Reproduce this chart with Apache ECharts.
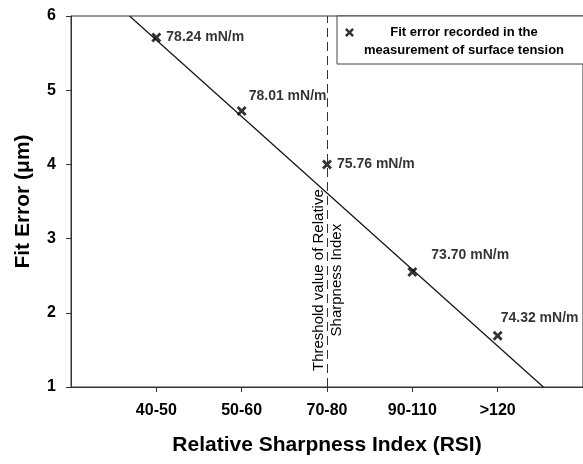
<!DOCTYPE html>
<html>
<head>
<meta charset="utf-8">
<script src="https://cdn.jsdelivr.net/npm/echarts@6/dist/echarts.min.js"></script>
<style>
  html, body { margin: 0; padding: 0; background: #fff; }
  #chart { width: 583px; height: 464px; }
</style>
</head>
<body>
<div id="chart"></div>
<script>
const categories = ['40-50', '50-60', '70-80', '90-110', '>120'];
const fitError = [5.71, 4.72, 4.0, 2.55, 1.69];
const tension = ['78.24 mN/m', '78.01 mN/m', '75.76 mN/m', '73.70 mN/m', '74.32 mN/m'];
const fitLine = [[0.686, 6], [5.535, 1]];
const thresholdX = 3;

// where each value label sits relative to its marker
const labelOffsets = [[3, 0], [0, -15], [3, 0], [12, -17], [-4, -18]];

const FONT = 'Liberation Sans, Arial, sans-serif';
const cross = 'path://M0,2 L2,0 L5,3 L8,0 L10,2 L7,5 L10,8 L8,10 L5,7 L2,10 L0,8 L3,5 Z';
// same cross, but sitting at the top of a taller box so it lines up with the first legend line
const legendCross = 'path://M0,2 L2,0 L5,3 L8,0 L10,2 L7,5 L10,8 L8,10 L5,7 L2,10 L0,8 L3,5 Z M5,30 L5.01,30 L5,30.01 Z';

const chart = echarts.init(document.getElementById('chart'));

const option = {
    animation: false,
    backgroundColor: '#fff',
    textStyle: { fontFamily: FONT },
    grid: {
        left: 71, top: 16, width: 516, height: 371,
        show: true, borderColor: '#333', borderWidth: 1
    },
    legend: {
        left: 337, top: 16,
        padding: [10, 30, 7, 8],
        itemWidth: 9, itemHeight: 27, itemGap: 0,
        align: 'left',
        borderColor: '#444', borderWidth: 1, borderRadius: 0,
        backgroundColor: '#fff',
        data: [{ name: 'fit', icon: legendCross, itemStyle: { color: '#000' } }],
        formatter: () => '{a|Fit error recorded in the}\n{a|measurement of surface tension}',
        textStyle: {
            rich: {
                a: { width: 210, align: 'center', fontSize: 13, fontWeight: 'bold', color: '#000', lineHeight: 18, fontFamily: FONT }
            }
        }
    },
    xAxis: {
        type: 'value', min: 0, max: 6, interval: 1,
        name: 'Relative Sharpness Index (RSI)',
        nameLocation: 'middle', nameGap: 48,
        nameTextStyle: { fontSize: 21, fontWeight: 'bold', color: '#000', fontFamily: FONT },
        axisLine: { lineStyle: { color: '#333', width: 1 } },
        axisTick: { customValues: [1, 2, 3, 4, 5], length: 5, lineStyle: { color: '#333' } },
        axisLabel: {
            customValues: [1, 2, 3, 4, 5],
            formatter: v => categories[v - 1] || '',
            margin: 16, fontSize: 16, fontWeight: 'bold', color: '#000', fontFamily: FONT
        },
        splitLine: { show: false }
    },
    yAxis: {
        type: 'value', min: 1, max: 6, interval: 1,
        name: 'Fit Error (\u03bcm)',
        nameLocation: 'middle', nameGap: 37,
        nameTextStyle: { fontSize: 21, fontWeight: 'bold', color: '#000', fontFamily: FONT },
        axisLine: { show: true, lineStyle: { color: '#333', width: 1 } },
        axisTick: { show: true, length: 5, lineStyle: { color: '#333' } },
        axisLabel: { margin: 15, fontSize: 16, fontWeight: 'bold', color: '#000', fontFamily: FONT },
        splitLine: { show: false }
    },
    series: [
        {
            name: 'line',
            type: 'line',
            data: fitLine,
            symbol: 'none',
            lineStyle: { color: '#111', width: 1.2 },
            markLine: {
                silent: true,
                symbol: 'none',
                lineStyle: { color: '#333', type: [9, 5], width: 1 },
                label: { show: false },
                data: [{ xAxis: thresholdX }]
            },
            z: 2
        },
        {
            name: 'fit',
            type: 'scatter',
            symbol: cross,
            symbolSize: 10,
            itemStyle: { color: '#000' },
            data: fitError.map((v, i) => ({
                value: [i + 1, v],
                label: {
                    show: true,
                    formatter: tension[i],
                    position: 'right',
                    offset: labelOffsets[i],
                    distance: 2,
                    fontSize: 14, fontWeight: 'bold', color: '#000', fontFamily: FONT
                }
            })),
            z: 3
        }
    ]
};

chart.setOption(option);

// threshold annotation, placed via the axes
const p = chart.convertToPixel({ gridIndex: 0 }, [thresholdX, 2.44]);
chart.setOption({
    graphic: [{
        type: 'text',
        x: p[0] + 1, y: p[1],
        rotation: Math.PI / 2,
        style: {
            text: 'Threshold value of Relative\nSharpness Index',
            align: 'center', verticalAlign: 'middle',
            font: '15px ' + FONT, fill: '#000', lineHeight: 18
        }
    }]
});
</script>
</body>
</html>
